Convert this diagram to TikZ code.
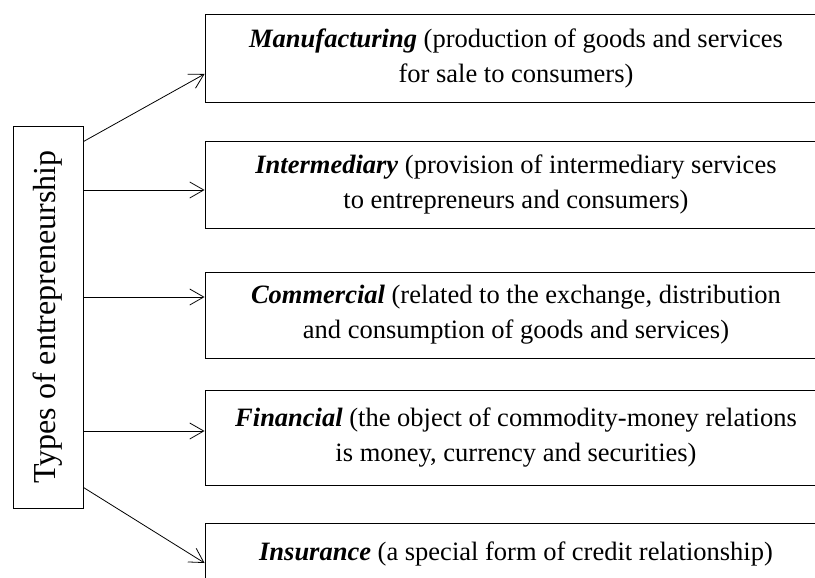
\documentclass[tikz,border=0pt]{standalone}
\usepackage{fontspec}
\setmainfont{Liberation Serif}
\usetikzlibrary{arrows.meta}
\tikzset{
    typebox/.style={draw, minimum width=622pt, align=center, inner sep=0pt,
        font=\fontsize{26.5}{35}\selectfont},
    arr/.style={-{Straight Barb[length=14pt,width=16pt]}, line width=0.8pt},
}
\newcommand{\kind}[1]{\textbf{\textit{#1}}}
\begin{document}
\begin{tikzpicture}[x=1pt, y=-1pt, line width=0.9pt]
    \useasboundingbox (0,0) rectangle (815,578);
    % boxes run off the right and bottom edge of the page
    \clip (0,0) rectangle (815,578);

    \node[draw, rotate=90, minimum width=382pt, minimum height=70pt,
        font=\fontsize{32}{36}\selectfont] (typ) at (48,317) {Types of entrepreneurship};

    \node[typebox, minimum height=88pt] (man) at (516,58)
        {\kind{Manufacturing} (production of goods and services\\for sale to consumers)};
    \node[typebox, minimum height=87pt] (int) at (516,184.5)
        {\kind{Intermediary} (provision of intermediary services\\to entrepreneurs and consumers)};
    \node[typebox, minimum height=86pt] (com) at (516,315)
        {\kind{Commercial} (related to the exchange, distribution\\and consumption of goods and services)};
    \node[typebox, minimum height=95pt] (fin) at (516,437.5)
        {\kind{Financial} (the object of commodity-money relations\\is money, currency and securities)};
    \node[typebox, minimum height=62pt, anchor=north] (ins) at (516,523)
        {\kind{Insurance} (a special form of credit relationship)};

    \draw[arr] ([yshift=-16pt]typ.south east) -- ([yshift=-16pt]man.west);
    \draw[arr] (typ.south |- int.west) ++(0,5.5) -- ([yshift=-5.5pt]int.west);
    \draw[arr] (typ.south |- com.west) ++(0,-18) -- ([yshift=18pt]com.west);
    \draw[arr] (typ.south |- fin.west) ++(0,-6.5) -- ([yshift=6.5pt]fin.west);
    \draw[arr] ([yshift=21pt]typ.south west) -- ([yshift=-40pt]ins.north west);
\end{tikzpicture}
\end{document}
